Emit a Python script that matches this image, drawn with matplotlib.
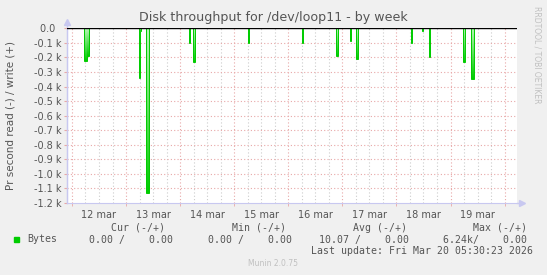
import numpy as np
import matplotlib
matplotlib.use('Agg')
from matplotlib import pyplot as plt

# hours since 12 mar 00:00, 30 min samples that are not zero
spike_hours = [5.5, 6.0, 6.5, 7.0, 7.5, 30.0, 30.5, 33.0, 33.5, 34.0,
               52.0, 54.0, 54.5, 78.5, 102.5, 117.5, 118.0, 123.5, 126.5,
               150.5, 155.5, 158.5, 174.0, 177.5, 178.0]
spike_read = [-223, -223, -223, -190, -190, -340, -20, -1130, -1130, -1130,
              -100, -234, -234, -103, -100, -190, -190, -90, -210,
              -100, -16, -195, -234, -350, -350]

day_labels = ['12 mar', '13 mar', '14 mar', '15 mar', '16 mar', '17 mar', '18 mar', '19 mar']
ytick_vals = list(range(-1200, 1, 100))
ytick_labels = ['%.1f k' % (v / 1000.0) for v in ytick_vals[:-1]] + ['0.0  ']

legend_headers = ['Cur (-/+)', 'Min (-/+)', 'Avg (-/+)', 'Max (-/+)']
legend_values = ['0.00 /    0.00', '0.00 /    0.00', '10.07 /    0.00', '6.24k/    0.00']
last_update = 'Last update: Fri Mar 20 05:30:23 2026'

RED = '#e8a8a8'
GREY = '#cccccc'
AXC = '#c8c8f0'
TXT = '#555555'


def build_series(t0=-2.5, t1=198.0, step=0.5):
    t = np.arange(t0, t1, step)
    v = np.zeros(len(t))
    for h, r in zip(spike_hours, spike_read):
        v[np.argmin(np.abs(t - h))] = r
    return t, v


def main():
    fig = plt.figure(figsize=(5.47, 2.75), dpi=100, facecolor='#f0f0f0')
    ax = fig.add_axes([67 / 547, 1 - 203 / 275, 450 / 547, (203 - 28.3) / 275])
    ax.set_facecolor('white')

    # grid
    for h in range(0, 198, 6):
        col = RED if h % 24 == 0 else GREY
        ax.axvline(h, color=col, lw=0.8, ls=(0, (1, 2)), zorder=1)
    for v in range(-1100, 0, 100):
        ax.axhline(v, color=RED, lw=0.8, ls=(0, (1, 2)), zorder=1)

    # data, gradient filled per sample
    t, v = build_series()
    edges = np.append(t, t[-1] + 0.5) - 0.25
    grad = np.linspace(0, 1, 64).reshape(-1, 1)
    cmap = matplotlib.colors.LinearSegmentedColormap.from_list('g', ['#00cc00', '#b8f4b8'])
    for i in range(len(v)):
        if v[i] < 0:
            ax.imshow(grad, extent=[edges[i], edges[i + 1], v[i], 0], aspect='auto',
                      cmap=cmap, origin='lower', zorder=2, interpolation='bilinear')
    ax.stairs(v, edges, color='#00cc00', lw=0.7, zorder=3)
    ax.set_xlim(-2.2, 197.5)
    ax.set_ylim(-1200, 0)
    ax.axhline(0, color='black', lw=1.0, zorder=4)

    # axes
    for s in ['top', 'right']:
        ax.spines[s].set_visible(False)
    for s in ['left', 'bottom']:
        ax.spines[s].set_color(AXC)
    ax.plot([0, 0], [0, 1.03], color=AXC, lw=1, transform=ax.transAxes, clip_on=False)
    ax.plot([1, 1.01], [0, 0], color=AXC, lw=1, transform=ax.transAxes, clip_on=False)
    ax.plot([0], [1.035], marker='^', ms=4, color=AXC, transform=ax.transAxes, clip_on=False)
    ax.plot([1.012], [0], marker='>', ms=4, color=AXC, transform=ax.transAxes, clip_on=False)

    ax.set_yticks(ytick_vals)
    ax.set_yticklabels(ytick_labels)
    ax.set_xticks([12 + 24 * i for i in range(len(day_labels))])
    ax.set_xticklabels(day_labels)
    ax.set_xticks([24 * i for i in range(9)], minor=True)
    ax.tick_params(axis='x', which='major', length=0, pad=5, labelsize=7, labelcolor=TXT)
    ax.tick_params(axis='x', which='minor', length=2.5, color=RED)
    ax.tick_params(axis='y', length=2, color=RED, pad=2, labelsize=7, labelcolor=TXT)

    fig.text(273 / 547, 1 - 18 / 275, 'Disk throughput for /dev/loop11 - by week',
             ha='center', va='center', fontsize=9.1, color=TXT)
    fig.text(10.5 / 547, 1 - 116 / 275, 'Pr second read (-) / write (+)', rotation=90,
             ha='center', va='center', fontsize=7.5, color=TXT)
    fig.text(537 / 547, 1 - 55 / 275, 'RRDTOOL / TOBI OETIKER', rotation=270,
             ha='center', va='center', fontsize=5.5, color='#c0c0c0')

    # legend
    mono = dict(family='DejaVu Sans Mono', fontsize=7.15, color=TXT, va='center')
    for txt, x in zip(legend_headers, [111, 232, 353, 473]):
        fig.text(x / 547, 1 - 228 / 275, txt, ha='left', **mono)
    fig.patches.append(plt.Rectangle((14 / 547, 1 - 242 / 275), 5 / 547, 5 / 275,
                                     transform=fig.transFigure, color='#00cc00'))
    fig.text(27 / 547, 1 - 239.5 / 275, 'Bytes', ha='left', **mono)
    for txt, x in zip(legend_values, [173, 291.7, 409, 526.7]):
        fig.text(x / 547, 1 - 239.5 / 275, txt, ha='right', **mono)
    fig.text(532.7 / 547, 1 - 251.5 / 275, last_update, ha='right', **mono)
    fig.text(273 / 547, 1 - 264 / 275, 'Munin 2.0.75', ha='center', va='center',
             fontsize=5.5, color='#c0c0c0')

    plt.savefig('out.png', dpi=100, facecolor=fig.get_facecolor())


if __name__ == '__main__':
    main()
